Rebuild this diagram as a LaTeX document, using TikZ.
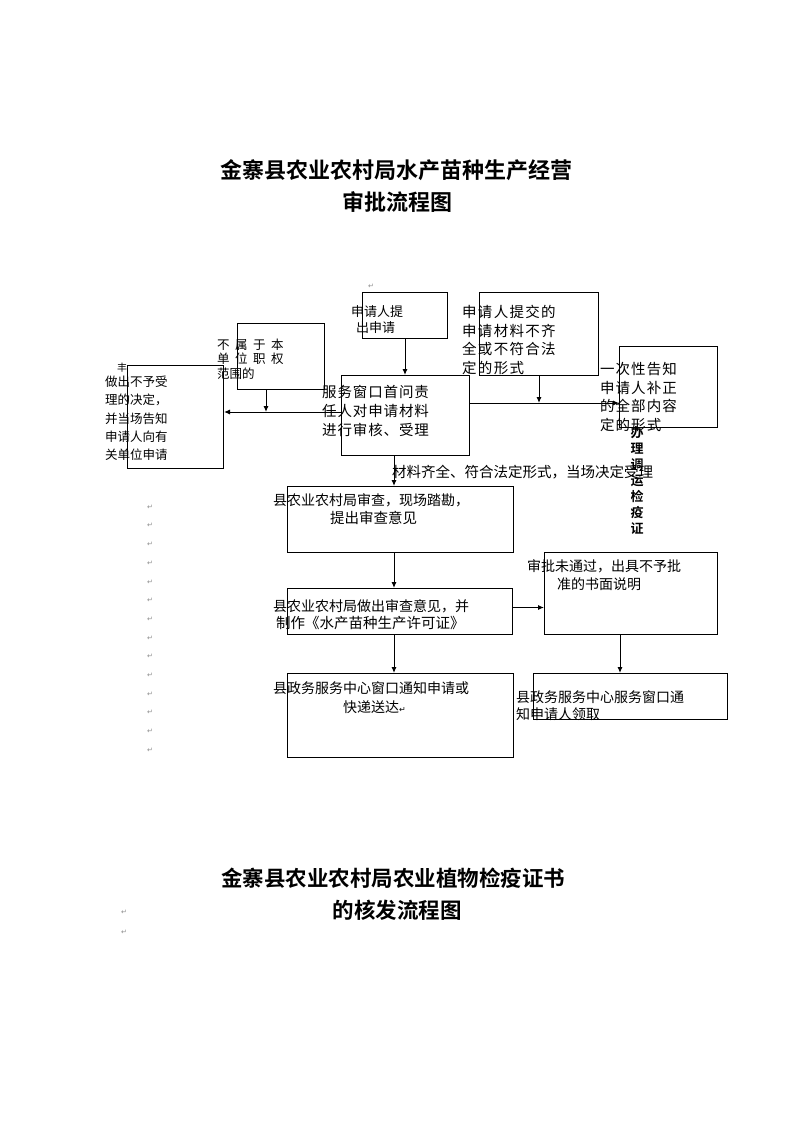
\documentclass[tikz,border=0pt]{standalone}
\usepackage{fontspec}
\newfontfamily\cjk{Noto Sans CJK SC}
\newfontfamily\cjkb{Noto Sans CJK SC Bold}
\newfontfamily\sym{DejaVu Sans}
\usetikzlibrary{arrows.meta,calc}
\begin{document}
\begin{tikzpicture}[x=1pt,y=-1pt,
  box/.style={draw=black,line width=1pt,inner sep=0pt,anchor=north west},
  arr/.style={line width=1pt,-{Latex[length=6pt,width=5pt]}},
  txt/.style={inner sep=0pt,anchor=west,align=left,font=\cjk\fontsize{14}{18.6}\selectfont},
  txtsm/.style={inner sep=0pt,anchor=west,align=left,font=\cjk\fontsize{12.5}{18.3}\selectfont},
  ttl/.style={inner sep=0pt,anchor=center,font=\cjkb\fontsize{22}{26}\selectfont},
  pm/.style={inner sep=0pt,anchor=center,text=black!45,font=\sym\fontsize{7}{8}\selectfont}]
\useasboundingbox[fill=white] (0,0) rectangle (794,1122);

% titles
\node[ttl] (t1a) at (396,170) {金寨县农业农村局水产苗种生产经营};
\node[ttl] (t1b) at (397,202) {审批流程图};
\node[ttl,font=\cjkb\fontsize{21.5}{26}\selectfont] (t2a) at (393,878) {金寨县农业农村局农业植物检疫证书};
\node[ttl,font=\cjkb\fontsize{21.5}{26}\selectfont] (t2b) at (397,910) {的核发流程图};

% boxes
\node[box,minimum width=85,minimum height=46] (A) at (362,292) {};
\node[box,minimum width=119,minimum height=83] (B) at (479,292) {};
\node[box,minimum width=87,minimum height=66] (N) at (237,323) {};
\node[box,minimum width=96,minimum height=103] (L) at (127,365) {};
\node[box,minimum width=128,minimum height=80] (C) at (341,375) {};
\node[box,minimum width=98,minimum height=81] (D) at (619,346) {};
\node[box,minimum width=226,minimum height=66] (E) at (287,486) {};
\node[box,minimum width=225,minimum height=46] (F) at (287,588) {};
\node[box,minimum width=173,minimum height=82] (G) at (544,552) {};
\node[box,minimum width=226,minimum height=84] (H) at (287,673) {};
\node[box,minimum width=194,minimum height=46] (I) at (533,673) {};

% helper coordinates
\coordinate (colx) at (394,0);
\coordinate (colr) at (620,0);
\coordinate (ncol) at (266,0);
\coordinate (lineL) at (0,412);
\coordinate (lineR) at (0,403);

% connectors
\draw[arr] (A.south) -- (C.north -| A.south);
\draw[arr] (C.west |- lineL) -- (L.east |- lineL);
\draw[arr] (N.south -| ncol) -- (ncol |- lineL);
\draw[arr] (C.east |- lineR) -- (D.west |- lineR);
\draw[arr] (B.south) -- (B.south |- lineR);
\draw[arr] (C.south -| colx) -- (E.north -| colx);
\draw[arr] (E.south -| colx) -- (F.north -| colx);
\draw[arr] (F.south -| colx) -- (H.north -| colx);
\draw[arr] ([yshift=4pt]F.east) -- ([yshift=4pt]F.east -| G.west);
\draw[arr] (G.south -| colr) -- (I.north -| colr);

% texts
\node[txt,font=\cjk\fontsize{13}{16}\selectfont] (tA) at (351,320) {申请人提\\\hspace*{5pt}出申请};
\node[txt,font=\cjk\fontsize{14.5}{18.7}\selectfont\addfontfeature{LetterSpace=9}] (tB) at (462,340) {申请人提交的\\申请材料不齐\\全或不符合法\\定的形式};
\node[inner sep=0pt,anchor=west,align=left,font=\cjk\fontsize{12.5}{14.3}\selectfont] (tN) at (217,359) {不\hspace{5.5pt}属\hspace{5.5pt}于\hspace{5.5pt}本\\单\hspace{5.5pt}位\hspace{5.5pt}职\hspace{5.5pt}权\\范围的};
\node[inner sep=0pt,anchor=center,font=\cjk\fontsize{10}{10}\selectfont] (tmark) at (122,368) {丰};
\node[txtsm] (tL) at (105,418.5) {做出不予受\\理的决定，\\并当场告知\\申请人向有\\关单位申请};
\node[txt,font=\cjk\fontsize{14.5}{19}\selectfont\addfontfeature{LetterSpace=6}] (tC) at (322,411) {服务窗口首问责\\任人对申请材料\\进行审核、受理};
\node[txt,font=\cjk\fontsize{14.5}{18.7}\selectfont\addfontfeature{LetterSpace=7}] (tD) at (600,397) {一次性告知\\申请人补正\\的全部内容\\定的形式};
\node[inner sep=0pt,anchor=center,align=center,font=\cjkb\fontsize{13}{16}\selectfont] (tV) at (637,480) {办\\理\\调\\运\\检\\疫\\证};
\node[txt,font=\cjk\fontsize{14.5}{18}\selectfont] (tLab) at (392,472) {材料齐全、符合法定形式，当场决定受理};
\node[txt] (tE1) at (273,500) {县农业农村局审查，现场踏勘，};
\node[txt,font=\cjk\fontsize{14.5}{18}\selectfont] (tE2) at (330,518) {提出审查意见};
\node[txt] (tF1) at (273,606) {县农业农村局做出审查意见，并};
\node[txt,font=\cjk\fontsize{14.5}{18}\selectfont] (tF2) at (276,623) {制作《水产苗种生产许可证》};
\node[txt] (tG1) at (527,566) {审批未通过，出具不予批};
\node[txt] (tG2) at (557,584) {准的书面说明};
\node[txt] (tH1) at (273,688) {县政务服务中心窗口通知申请或};
\node[txt] (tH2) at (343,707) {快递送达{\sym\fontsize{8}{8}\selectfont ↵}};
\node[txt] (tI1) at (516,697) {县政务服务中心服务窗口通};
\node[txt] (tI2) at (516,714) {知申请人领取};

% paragraph marks
\node[pm] (p0) at (371,286) {↵};
\foreach \i in {0,...,13}{
  \node[pm] (pc\i) at (150,{507+18.7*\i}) {↵};
}
\node[pm] (p1) at (124,912) {↵};
\node[pm] (p2) at (124,932) {↵};
\end{tikzpicture}
\end{document}
